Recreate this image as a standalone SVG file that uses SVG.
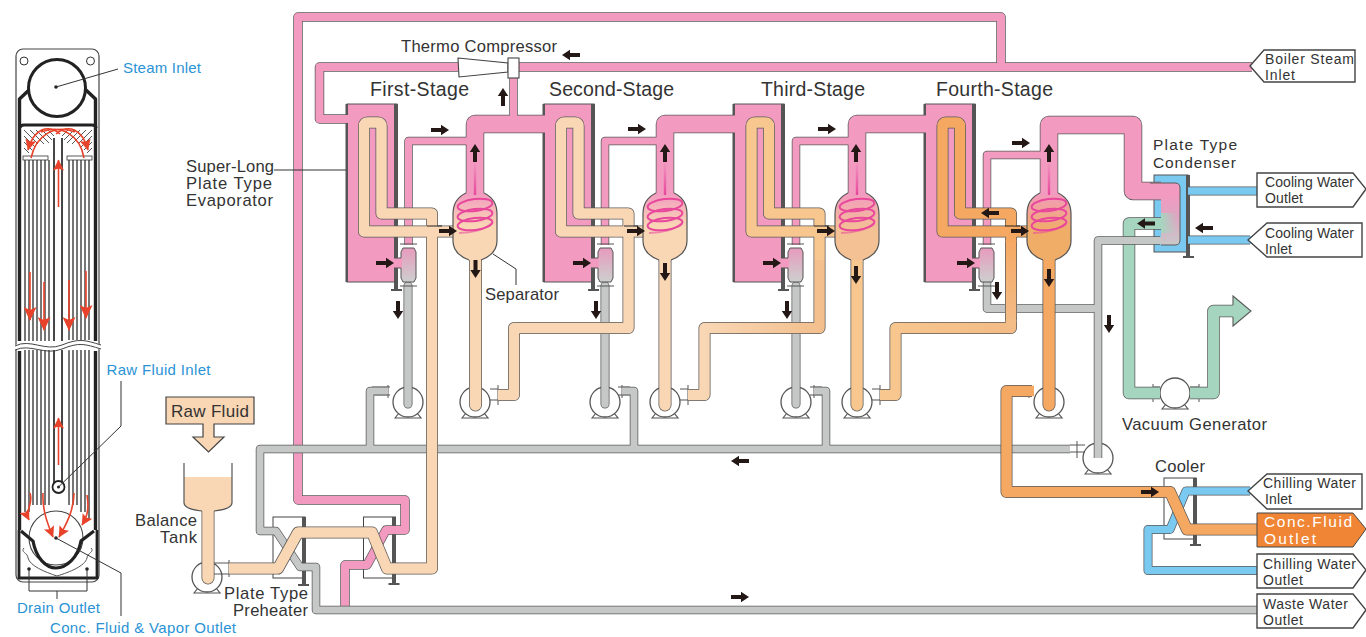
<svg xmlns="http://www.w3.org/2000/svg" width="1366" height="637" viewBox="0 0 1366 637">
<style>
text{font-family:"Liberation Sans",Arial,sans-serif;font-size:16.6px;fill:#333}
.blue{fill:#2a93d5;font-size:15px}
.stage{font-size:19.5px}
.t{font-size:14px}
.c{fill:#fff;font-size:15.5px}
.d{font-size:15.5px}
.o,.i{fill:none;stroke-linejoin:round}
.o{stroke:#5a5a5a}
.round{stroke-linecap:round}
.pk{stroke:#f29ac0}.gy{stroke:#c5c8c7}.gr{stroke:#a6d5bf}.bl{stroke:#7ac9f0}
.p1{stroke:#f9d7b5}.p3{stroke:#f8c68f}.p4{stroke:#f5a862}
.leader{fill:none;stroke:#333;stroke-width:1}
.thin{fill:none;stroke:#555;stroke-width:1}
.tag{fill:#fff;stroke:#444;stroke-width:1.4}
.evap{fill:#f29ac0;stroke:#555;stroke-width:1}
.plate{fill:#555}
.red{fill:none;stroke:#e8432a;stroke-width:1.600}
.wall{fill:none;stroke:#222;stroke-width:2.6;stroke-linejoin:round}
.coil{fill:none;stroke:#e8479b;stroke-width:2}
</style>
<defs>
<path id="ar" fill="#231815" d="M-9,-2H1V-5.200L9,0L1,5.200V2H-9Z"/>
<g id="pump"><path d="M-13,16L-9,11H9L13,16Z" fill="#fff" stroke="#555" stroke-width="1.2"/><circle r="15" fill="#fff" stroke="#555" stroke-width="1.3"/></g>
<marker id="rh" markerWidth="15" markerHeight="13" refX="13" refY="6.5" orient="auto" markerUnits="userSpaceOnUse"><path d="M0,0L14,6.5L0,13L3,6.5Z" fill="#e8432a"/></marker>
<marker id="rs" markerWidth="12" markerHeight="11" refX="10.500" refY="5.500" orient="auto" markerUnits="userSpaceOnUse"><path d="M0,0L11,5.500L0,11L2,5.500Z" fill="#e8432a"/></marker>
<linearGradient id="gs1" x1="0" y1="0" x2="0" y2="1"><stop offset="0" stop-color="#f29ac0"/><stop offset=".5" stop-color="#f9d7b5"/></linearGradient>
<linearGradient id="gs3" x1="0" y1="0" x2="0" y2="1"><stop offset="0" stop-color="#f29ac0"/><stop offset=".55" stop-color="#f3c193"/></linearGradient>
<linearGradient id="gs4" x1="0" y1="0" x2="0" y2="1"><stop offset="0" stop-color="#f29ac0"/><stop offset=".55" stop-color="#f0ad68"/></linearGradient>
<linearGradient id="gstalk" x1="0" y1="0" x2="0" y2="1"><stop offset="0" stop-color="#e8479b" stop-opacity="0"/><stop offset="1" stop-color="#e8479b"/></linearGradient>
<linearGradient id="gv" x1="0" y1="0" x2="0" y2="1"><stop offset="0" stop-color="#e79bbd"/><stop offset="1" stop-color="#cdcfce"/></linearGradient>
<linearGradient id="gc" gradientUnits="userSpaceOnUse" x1="0" y1="195" x2="0" y2="245"><stop offset="0" stop-color="#f29ac0"/><stop offset=".45" stop-color="#dda6c2"/><stop offset="1" stop-color="#c8c9c9"/></linearGradient>
<linearGradient id="gcg" x1="0" y1="0" x2="1" y2="0"><stop offset="0" stop-color="#a6d5bf"/><stop offset="1" stop-color="#a6d5bf" stop-opacity="0"/></linearGradient>
<linearGradient id="f2" gradientUnits="userSpaceOnUse" x1="700" y1="0" x2="822" y2="0"><stop offset="0" stop-color="#f9d7b5"/><stop offset="1" stop-color="#f3bf8d"/></linearGradient>
<linearGradient id="f3" gradientUnits="userSpaceOnUse" x1="890" y1="0" x2="1015" y2="0"><stop offset="0" stop-color="#f8c68f"/><stop offset="1" stop-color="#f3bb85"/></linearGradient>
<linearGradient id="f3v" gradientUnits="userSpaceOnUse" x1="0" y1="320" x2="0" y2="235"><stop offset="0" stop-color="#f3bb85"/><stop offset="1" stop-color="#f5a862"/></linearGradient>
<g id="sepcoil">
<rect x="-1.2" y="-32" width="2.4" height="34" fill="url(#gstalk)"/>
<ellipse class="coil" cx="0" cy="12" rx="17.5" ry="6" transform="rotate(-7 0 12)"/>
<ellipse class="coil" cx="0" cy="22" rx="17.5" ry="6" transform="rotate(-7 0 22)"/>
<ellipse class="coil" cx="0" cy="31" rx="17.5" ry="6" transform="rotate(-7 0 31)"/>
<path d="M-16,40C-4,40 10,37 17,30" fill="none" stroke="#e8479b" stroke-width="2" stroke-opacity=".55"/>
</g>
<path id="sepfill" d="M-22,21Q-22,6 -9,0H9Q22,6 22,21V48Q22,61 6,67H-6Q-22,61 -22,48Z"/>
<path id="sepline2" fill="none" stroke="#555" stroke-width="1.2" d="M-9,0Q-22,6 -22,21V48Q-22,61 -6,67M6,67Q22,61 22,48V21Q22,6 9,0"/>
<g id="valve">
<path d="M2,0H13L15,4V30L13,34H2L0,30V4Z" fill="url(#gv)" stroke="#555" stroke-width="1"/>
<rect x="-7" y="10" width="8" height="10" fill="#f29ac0"/>
<path class="thin" d="M-1,-4H16M-1,38H16M-7,10H0M-7,20H0"/>
</g>
</defs>

<g id="panel">
<rect x="16" y="49" width="83" height="533" rx="7" fill="#fff" stroke="#444" stroke-width="1.2"/>
<circle cx="24" cy="61" r="4" fill="#fff" stroke="#333"/>
<circle cx="90.500" cy="61" r="4" fill="#fff" stroke="#333"/>
<g stroke="#555" stroke-width="1.600">
<path d="M25,160V341M29,160V341M33,160V341M37,160V341M41,160V341M45,160V341M49,160V341M69,160V340M73,160V340M77,160V340M81,160V340M85,160V340M89,160V340M25,350V512M29,350V512M33,350V505M37,350V505M41,350V505M45,350V505M49,350V505M69,350V505M73,350V505M77,350V505M81,350V512M85,350V512M89,350V520"/>
</g>
<path stroke="#444" stroke-width=".9" d="M24,130L38,144M24,136L35,147M24,142L32,150M24,148L29,153M30,130L44,144M36,130L49,143M42,130L52,140M48,130L54,136M92,130L78,144M92,136L81,147M92,142L84,150M92,148L87,153M86,130L72,144M80,130L67,143M74,130L64,140M68,130L62,136"/>
<rect x="23" y="156" width="25" height="4" fill="#fff" stroke="#333" stroke-width=".8"/>
<rect x="67" y="156" width="25" height="4" fill="#fff" stroke="#333" stroke-width=".8"/>
<path class="wall" style="stroke-width:3.400" d="M19.500,341V99L29,90M19.500,351V530M95.500,341V99L86,90M95.500,351V530"/>
<circle cx="57" cy="88" r="28.500" fill="#fff" stroke="#222" stroke-width="3"/>
<path d="M20,128Q20,125 24,125H92Q96,125 96,128" fill="none" stroke="#222" stroke-width="3"/>
<path d="M55,138H62V341H55ZM55,350H62V484H55Z" fill="#fff"/>
<path fill="none" stroke="#333" stroke-width="1.800" d="M54,138V341M62,138V341M54,350V484M62,350V484"/>
<circle cx="58.500" cy="487" r="6" fill="#fff" stroke="#222" stroke-width="1.800"/>
<path d="M13,346C30,338 45,352 62,345S85,340 103,345V350C85,345 78,352 62,350S30,343 13,351Z" fill="#fff"/>
<path fill="none" stroke="#444" stroke-width="1" d="M15,346C30,338 45,352 62,345S85,340 101,345M15,350C30,343 45,356 62,349S85,344 101,349"/>
<circle cx="56" cy="538" r="27" fill="#fff" stroke="#444" stroke-width="1.100"/>
<path d="M21,531L33,541C36,558 46,568 56,568S78,558 81,541L94,531" fill="none" stroke="#222" stroke-width="3.200"/>
<path d="M19,530V578H97V530" fill="none" stroke="#222" stroke-width="2.800" stroke-linejoin="round"/>
<path class="thin" stroke="#444" d="M24,548C20,552 28,553 28,558C30,566 45,572 57,576C70,572 85,566 87,558C87,553 95,552 91,548"/>
<circle cx="29" cy="569" r="1.800" fill="#222"/><circle cx="87" cy="569" r="1.800" fill="#222"/>
<circle cx="56" cy="87" r="1.800" fill="#222"/><circle cx="58.500" cy="487" r="1.500" fill="#222"/><circle cx="56" cy="538" r="1.800" fill="#222"/>
<path class="leader" d="M56,87L118,69M58.500,487L121,426V381M56,538L121,573V616M29,569V591H87V569M57,591V599"/>
<g class="red">
<path d="M58.500,207V160" marker-end="url(#rs)"/>
<path d="M58.500,465V418" marker-end="url(#rs)"/>
<path d="M30,272V320" marker-end="url(#rh)"/>
<path d="M44,282V330" marker-end="url(#rh)"/>
<path d="M69,280V330" marker-end="url(#rh)"/>
<path d="M86,271V318" marker-end="url(#rh)"/>
<path d="M60,134C48,124 34,128 28,150" marker-end="url(#rs)"/>
<path d="M75,132C55,124 36,135 31,158"/>
<path d="M56,134C68,124 82,128 88,150" marker-end="url(#rs)"/>
<path d="M41,132C61,124 80,135 84,158"/>
<path d="M30,493C34,505 24,510 29,520" marker-end="url(#rs)"/>
<path d="M43,493C42,510 48,525 53,537" marker-end="url(#rs)"/>
<path d="M74,493C74,510 66,525 59,537" marker-end="url(#rs)"/>
<path d="M87,495C89,508 88,515 82,525" marker-end="url(#rs)"/>
</g>
<text class="blue" x="123" y="73" textLength="78">Steam Inlet</text>
<text class="blue" x="106.500" y="375" textLength="104">Raw Fluid Inlet</text>
<text class="blue" x="17" y="613" textLength="83">Drain Outlet</text>
<text class="blue" x="50" y="633" textLength="186">Conc. Fluid &amp; Vapor Outlet</text>
</g>

<g id="evaporator-1"><rect class="evap" x="347" y="104" width="50" height="178"/><path class="plate" d="M345.500,104h2.500v178h-2.500zM394,104h4v154h-4zM394,268h4v22h-4zM391,289h11v2h-11z"/></g>
<g id="evaporator-2"><rect class="evap" x="544" y="104" width="50" height="178"/><path class="plate" d="M542.500,104h2.500v178h-2.500zM591,104h4v154h-4zM591,268h4v22h-4zM588,289h11v2h-11z"/></g>
<g id="evaporator-3"><rect class="evap" x="734" y="104" width="50" height="178"/><path class="plate" d="M732.500,104h2.500v178h-2.500zM781,104h4v154h-4zM781,268h4v22h-4zM778,289h11v2h-11z"/></g>
<g id="evaporator-4"><rect class="evap" x="925" y="104" width="50" height="178"/><path class="plate" d="M923.500,104h2.500v178h-2.500zM972,104h4v154h-4zM972,268h4v22h-4zM969,289h11v2h-11z"/></g>

<g id="preheater"><rect x="273" y="517" width="32" height="61" fill="#fff" stroke="#444"/><path class="plate" d="M302,517h4v68h-4zM298,584h11v2h-11z"/>
<rect x="363.500" y="517" width="32" height="61" fill="#fff" stroke="#444"/><path class="plate" d="M392,517h4v68h-4zM388.500,583h11v2h-11z"/></g>
<g id="cooler"><rect x="1164" y="478" width="32" height="61" fill="#fff" stroke="#444"/><path class="plate" d="M1193,478h4v67h-4zM1190,544h11v2h-11z"/></g>
<g id="condenser"><rect x="1154" y="175" width="34" height="77" fill="#7ac9f0" stroke="#555"/><path class="plate" d="M1186,175h4v82h-4zM1183,256h11v2h-11z"/></g>

<g id="pump-1"><use href="#pump" x="207" y="577"/><path class="thin" d="M229,560V577M214,563H229M214,574H229"/></g>
<g id="pump-2"><use href="#pump" x="408" y="402"/><path class="thin" d="M388,385V398M390,387H372M390,395H372"/></g>
<g id="pump-3"><use href="#pump" x="475" y="402"/><path class="thin" d="M498,385V405M490,389H498M490,400H498"/></g>
<g id="pump-4"><use href="#pump" x="605" y="402"/><path class="thin" d="M622,385V398M618,387H630M618,395H630"/></g>
<g id="pump-5"><use href="#pump" x="665" y="402"/><path class="thin" d="M688,385V405M680,389H688M680,400H688"/></g>
<g id="pump-6"><use href="#pump" x="796" y="402"/><path class="thin" d="M814,385V398M810,387H822M810,395H822"/></g>
<g id="pump-7"><use href="#pump" x="857" y="402"/><path class="thin" d="M880,385V405M872,389H880M872,400H880"/></g>
<g id="pump-8"><use href="#pump" x="1049" y="402"/><path class="thin" d="M1029,385V398M1034,387H1015M1034,395H1015"/></g>
<g id="pump-9"><use href="#pump" x="1098" y="458"/><path class="thin" d="M1077,441V458M1085,445H1070M1085,452H1070"/></g>
<g id="pump-10"><use href="#pump" x="1175" y="393"/><path class="thin" d="M1153,384V402M1199,384V402M1153,387H1160M1153,398H1160M1190,387H1199M1190,398H1199"/></g>

<g id="connectors">
<path class="o" stroke-width="9.500" d="M1252,67H519M458,67H319.500V119H347M1001,67V17H298V500H405V530H386L367,565H345V608"/>
<path class="i pk" stroke-width="8" d="M1252,67H519M458,67H319.500V119H350M1001,67V17H298V500H405V530H386L367,565H345V608"/>
<path class="o" stroke-width="12.500" d="M1161,223.500H1129V393H1160M1190,393H1213.500V311H1233"/>
<path class="i gr" stroke-width="11" d="M1161,223.500H1129V393H1160M1190,393H1213.500V311H1236"/>
<path d="M1233,305V296L1251,311L1233,326V317" fill="#a6d5bf" stroke="#5a5a5a" stroke-width="1.100"/>
<path class="o" stroke-width="8.500" d="M1160,240.500H1098V458M1098,308.500H987V278M1070,449H260V531H276L300,567H316V610H1257M370,449V391H388M634,449V391H622M826,449V391H814"/>
<path class="i gy" stroke-width="7" d="M1162,240.500H1098V458M1098,308.500H987V278M1070,449H260V531H276L300,567H316V610H1257M370,449V391H388M634,449V391H622M826,449V391H814"/>
<path class="o round" stroke-width="9" d="M408,286V404M605,286V404M796,286V404"/>
<path class="i gy round" stroke-width="7.500" d="M408,286V404M605,286V404M796,286V404"/>
<path class="o" stroke-width="8.500" d="M466,141H408.500V245M513.500,124V78M657,141H605V245M848,141H796V245M1040,155H987V245"/>
<path class="o" stroke-width="18.500" d="M475,195V124H545M665,195V124H735M857,195V124H926M1049,195V125H1133V191H1161"/>
<path class="i pk" stroke-width="7" d="M468,141H408.500V245M513.500,126V78M659,141H605V245M850,141H796V245M1042,155H987V245"/>
<path class="i pk" stroke-width="17" d="M475,197V124H548M665,197V124H738M857,197V124H929M1049,197V125H1133V191H1163"/>
<path d="M1161,183H1175Q1180,183 1180,188V240Q1180,245 1175,245H1161V199H1150V183Z" fill="url(#gc)"/>
<path fill="none" stroke="#5a5a5a" stroke-width="1" d="M1150,183H1175Q1180,183 1180,188V240Q1180,245 1175,245H1161"/>
<rect x="1161" y="213" width="16" height="20" fill="url(#gcg)"/>
<path class="o" stroke-width="9" d="M1190,191H1257M1190,240H1250"/>
<path class="i bl" stroke-width="7.500" d="M1188,191H1257M1188,240H1252"/>
<path class="o" stroke-width="9" d="M1250,491H1186L1170,529.500H1148V570.500H1257"/>
<path class="i bl" stroke-width="7.500" d="M1252,491H1186L1170,529.500H1148V570.500H1257"/>
<path class="o" stroke-width="12" d="M1032,391H1006.500V492H1170L1187,529.500H1257"/>
<path class="i p4" stroke-width="10.500" d="M1034,391H1006.500V492H1170L1187,529.500H1258"/>
<path class="o" stroke-width="12" d="M229,568.500H278L298,532.500H372L387,568.500H432V213.500H381.500V126Q381.500,122.500 378,122.500H367.500Q364,122.500 364,126V231.500H455"/>
<path class="i p1" stroke-width="10.500" d="M229,568.500H278L298,532.500H372L387,568.500H432V213.500H381.500V126Q381.500,122.500 378,122.500H367.500Q364,122.500 364,126V231.500H457"/>
<path class="o" stroke-width="12" d="M498,395H514V328H628.500V213.500H578.500V126Q578.500,122.500 575,122.500H564.500Q561,122.500 561,126V231.500H645"/>
<path class="i p1" stroke-width="10.500" d="M498,395H514V328H628.500V213.500H578.500V126Q578.500,122.500 575,122.500H564.500Q561,122.500 561,126V231.500H647"/>
<path class="o" stroke-width="12" d="M688,395H704.500V328H819.500V213.500H769V126Q769,122.500 765.500,122.500H755Q751.500,122.500 751.500,126V231.500H837"/>
<path class="i" style="stroke:url(#f2)" stroke-width="10.500" d="M688,395H704.500V328H819.500V260"/>
<path class="i p3" stroke-width="10.500" d="M819.500,260V213.500H769V126Q769,122.500 765.500,122.500H755Q751.500,122.500 751.500,126V231.500H839"/>
<path class="o" stroke-width="12" d="M880,395H895.500V328H1011V213.500H960V126Q960,122.500 956.500,122.500H946Q942.500,122.500 942.500,126V231.500H1029"/>
<path class="i" style="stroke:url(#f3)" stroke-width="10.500" d="M880,395H895.500V328H1011V320"/>
<path class="i" style="stroke:url(#f3v)" stroke-width="10.500" d="M1011,322V240"/>
<path class="i p4" stroke-width="10.500" d="M1011,242V213.500H960V126Q960,122.500 956.500,122.500H946Q942.500,122.500 942.500,126V231.500H1031"/>
<path class="o round" stroke-width="13" d="M475.500,258V405"/><path class="i p1 round" stroke-width="11.500" d="M475.500,258V405"/>
<path class="o round" stroke-width="13" d="M665,258V405"/><path class="i p1 round" stroke-width="11.500" d="M665,258V405"/>
<path class="o round" stroke-width="13" d="M857,258V405"/><path class="i p3 round" stroke-width="11.500" d="M857,258V405"/>
<path class="o round" stroke-width="13" d="M1049,258V405"/><path class="i p4 round" stroke-width="11.500" d="M1049,258V405"/>
<path class="o round" stroke-width="13" d="M208,505V578"/><path class="i p1 round" stroke-width="11.500" d="M208,505V578"/>
<path stroke="#222" stroke-width="1" d="M427,226H442M624,226H638M814,226H829M1005,226H1020"/>
</g>

<g id="thermo-compressor"><path d="M458,58L508,63V72L459,77Z" fill="#fff" stroke="#444" stroke-width="1.100"/><rect x="508" y="58" width="11" height="20" fill="#fff" stroke="#444" stroke-width="1.100"/></g>

<g id="separator-1" transform="translate(475 193)"><use href="#sepfill" fill="url(#gs1)"/><use href="#sepline2"/><use href="#sepcoil"/></g>
<g id="separator-2" transform="translate(665 193)"><use href="#sepfill" fill="url(#gs1)"/><use href="#sepline2"/><use href="#sepcoil"/></g>
<g id="separator-3" transform="translate(857 193)"><use href="#sepfill" fill="url(#gs3)"/><use href="#sepline2"/><use href="#sepcoil"/></g>
<g id="separator-4" transform="translate(1049 193)"><use href="#sepfill" fill="url(#gs4)"/><use href="#sepline2"/><use href="#sepcoil"/></g>

<g id="valve-1"><use href="#valve" x="401" y="248"/></g>
<g id="valve-2"><use href="#valve" x="598" y="248"/></g>
<g id="valve-3"><use href="#valve" x="788" y="248"/></g>
<g id="valve-4"><use href="#valve" x="979" y="248"/></g>

<g id="raw-fluid"><path d="M166,397H254V424H214V437H224L208.500,452L193,437H203V424H166Z" fill="#f9d7b5" stroke="#444" stroke-width="1.200"/><text x="171" y="417" textLength="78" style="font-size:17px">Raw Fluid</text></g>
<g id="balance-tank"><path d="M184,477H232V503Q232,509 214,511H202Q184,509 184,503Z" fill="#f9d7b5"/><path d="M184,463V503Q184,509 202,511M232,463V503Q232,509 214,511" fill="none" stroke="#555" stroke-width="1.200"/></g>

<g id="tags">
<g id="tag-boiler"><path class="tag" d="M1250,66L1264,50H1355V82H1264Z"/><text class="t" x="1265" y="64" textLength="89">Boiler Steam</text><text class="t" x="1265" y="80" textLength="30">Inlet</text></g>
<g id="tag-cw-out"><path class="tag" d="M1257,173H1353L1366,189L1353,207H1257Z"/><text class="t" x="1265" y="187" textLength="89">Cooling Water</text><text class="t" x="1265" y="203" textLength="38">Outlet</text></g>
<g id="tag-cw-in"><path class="tag" d="M1248,240L1267,223H1362V257H1267Z"/><text class="t" x="1265" y="238" textLength="89">Cooling Water</text><text class="t" x="1265" y="254" textLength="27">Inlet</text></g>
<g id="tag-chw-in"><path class="tag" d="M1248,491L1267,474H1362V509H1267Z"/><text class="t" x="1263" y="488" textLength="93">Chilling Water</text><text class="t" x="1265" y="504" textLength="27">Inlet</text></g>
<g id="tag-conc"><path d="M1257,513H1353L1366,529L1353,547H1257Z" fill="#f08536" stroke="#444" stroke-width="1"/><text class="c" x="1264" y="527" textLength="88">Conc.Fluid</text><text class="c" x="1264" y="544" textLength="52">Outlet</text></g>
<g id="tag-chw-out"><path class="tag" d="M1257,554H1353L1366,570L1353,588H1257Z"/><text class="t" x="1263" y="569" textLength="93">Chilling Water</text><text class="t" x="1263" y="585" textLength="40">Outlet</text></g>
<g id="tag-waste"><path class="tag" d="M1257,594H1353L1366,610L1353,628H1257Z"/><text class="t" x="1263" y="609" textLength="85">Waste Water</text><text class="t" x="1263" y="625" textLength="40">Outlet</text></g>
</g>

<g id="arrows">
<use href="#ar" transform="translate(571 55) rotate(180)"/>
<use href="#ar" transform="translate(503 97) rotate(-90)"/>
<use href="#ar" transform="translate(440 130)"/><use href="#ar" transform="translate(475 153) rotate(-90)"/><use href="#ar" transform="translate(448 231)"/><use href="#ar" transform="translate(385 263)"/><use href="#ar" transform="translate(475.500 269) rotate(90)"/><use href="#ar" transform="translate(398 310) rotate(90)"/>
<use href="#ar" transform="translate(637 129)"/><use href="#ar" transform="translate(665 153) rotate(-90)"/><use href="#ar" transform="translate(636 231)"/><use href="#ar" transform="translate(582 263)"/><use href="#ar" transform="translate(665 272) rotate(90)"/><use href="#ar" transform="translate(596 310) rotate(90)"/>
<use href="#ar" transform="translate(827 129)"/><use href="#ar" transform="translate(856 153) rotate(-90)"/><use href="#ar" transform="translate(826 231)"/><use href="#ar" transform="translate(772 263)"/><use href="#ar" transform="translate(856 275) rotate(90)"/><use href="#ar" transform="translate(787 310) rotate(90)"/>
<use href="#ar" transform="translate(1021 143)"/><use href="#ar" transform="translate(1049 153) rotate(-90)"/><use href="#ar" transform="translate(990 213) rotate(180)"/><use href="#ar" transform="translate(1020 231)"/><use href="#ar" transform="translate(966 263)"/><use href="#ar" transform="translate(1049 278) rotate(90)"/><use href="#ar" transform="translate(997 291) rotate(90)"/>
<use href="#ar" transform="translate(1109 324) rotate(90)"/>
<use href="#ar" transform="translate(1146 223.500) rotate(180)"/>
<use href="#ar" transform="translate(1204 228) rotate(180)"/>
<use href="#ar" transform="translate(740 461) rotate(180)"/>
<use href="#ar" transform="translate(740 597)"/>
<use href="#ar" transform="translate(1150 492)"/>
</g>

<g id="labels">
<text x="401" y="52" textLength="156">Thermo Compressor</text>
<text class="stage" x="370" y="96" textLength="99">First-Stage</text>
<text class="stage" x="549" y="96" textLength="125">Second-Stage</text>
<text class="stage" x="761" y="96" textLength="104">Third-Stage</text>
<text class="stage" x="936" y="96" textLength="117">Fourth-Stage</text>
<text x="186" y="172" textLength="88">Super-Long</text>
<text x="186" y="189" textLength="86">Plate Type</text>
<text x="186" y="206" textLength="87">Evaporator</text>
<path class="leader" d="M274,170H346M493,254L516,269V285"/>
<text x="485" y="300" textLength="74">Separator</text>
<text x="135" y="526" textLength="62">Balance</text>
<text x="160" y="543" textLength="37">Tank</text>
<text x="224" y="599" textLength="84">Plate Type</text>
<text x="233" y="616" textLength="75">Preheater</text>
<text class="d" x="1153" y="150" textLength="84">Plate Type</text>
<text class="d" x="1153" y="168" textLength="83">Condenser</text>
<text x="1122" y="430" textLength="145">Vacuum Generator</text>
<text x="1155" y="472" textLength="50">Cooler</text>
</g>
</svg>
